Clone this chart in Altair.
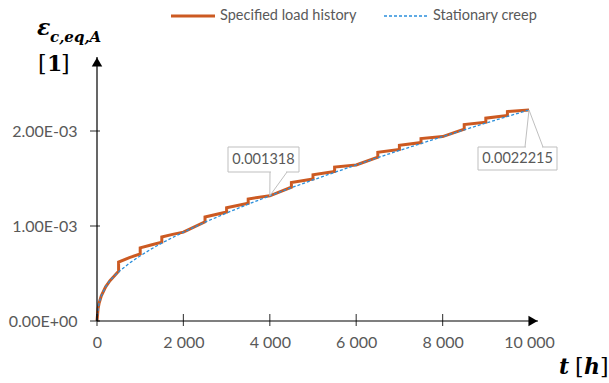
import altair as alt
import pandas as pd

# ---------------- data (strain values in units of 1e-3) ----------------
creep_t = [0, 25, 50, 100, 200, 300, 400, 500, 750, 1000, 1250, 1500, 1750, 2000,
           2500, 3000, 3500, 4000, 4500, 5000, 5500, 6000, 6500, 7000, 7500, 8000,
           8500, 9000, 9500, 10000]
creep_e = [0, 0.13, 0.19, 0.265, 0.36, 0.425, 0.474, 0.517, 0.609, 0.686, 0.756, 0.820,
           0.879, 0.935, 1.040, 1.137, 1.230, 1.318, 1.403, 1.485, 1.565, 1.643, 1.720,
           1.795, 1.868, 1.941, 2.013, 2.083, 2.153, 2.2215]

load_t = [0, 25, 50, 100, 200, 300, 400, 500, 500, 750, 1000, 1000, 1250, 1500, 1500,
          1750, 2000, 2500, 2500, 3000, 3000, 3500, 3500, 4000, 4500, 4500, 5000, 5000,
          5500, 5500, 6000, 6500, 6500, 7000, 7000, 7500, 7500, 8000, 8500, 8500, 9000,
          9000, 9500, 9500, 10000]
load_e = [0, 0.13, 0.19, 0.265, 0.36, 0.425, 0.474, 0.525, 0.62, 0.668, 0.705, 0.77,
          0.80, 0.83, 0.885, 0.912, 0.935, 1.045, 1.095, 1.147, 1.192, 1.240, 1.285,
          1.318, 1.408, 1.458, 1.495, 1.540, 1.575, 1.620, 1.643, 1.725, 1.775, 1.805,
          1.850, 1.878, 1.920, 1.941, 2.018, 2.068, 2.093, 2.135, 2.163, 2.205, 2.2215]

x_ticks = [0, 2000, 4000, 6000, 8000, 10000]
y_ticks = [0, 0.001, 0.002]
y_tick_labels = ["0.00E+00", "1.00E-03", "2.00E-03"]

annot_t = [4000, 10000]
annot_e = [0.001318, 0.0022215]
annot_text = ["0.001318", "0.0022215"]

legend_labels = ["Specified load history", "Stationary creep"]

# ---------------- styling ----------------
ORANGE = "#CC5A22"
BLUE = "#2B8FDB"
GRAY_TXT = "#595959"
BOX = "#BFBFBF"
X_MAX = 10208
Y_MAX = 0.002779
W, H = 441, 264

xs = alt.Scale(domain=[0, X_MAX], nice=False, zero=False)
ys = alt.Scale(domain=[0, Y_MAX], nice=False, zero=False)

load_df = pd.DataFrame({"t": load_t, "e": [v * 1e-3 for v in load_e],
                        "i": list(range(len(load_t)))})
creep_df = pd.DataFrame({"t": creep_t, "e": [v * 1e-3 for v in creep_e],
                         "i": list(range(len(creep_t)))})

y_expr = "[" + ",".join("'%s'" % s for s in y_tick_labels) + "][round(datum.value * 1000)]"

x_axis = alt.Axis(values=x_ticks, domain=False, ticks=False, grid=False, title=None,
                  labelExpr="replace(format(datum.value, ','), ',', ' ')",
                  labelFont="Lato", labelFontSize=16, labelColor=GRAY_TXT,
                  labelPadding=13, labelFlush=False, labelOverlap=False)
y_axis = alt.Axis(values=y_ticks, domain=False, ticks=False, grid=False, title=None,
                  labelExpr=y_expr, labelFont="Lato", labelFontSize=16,
                  labelColor=GRAY_TXT, labelPadding=20, labelOverlap=False)

load_line = alt.Chart(load_df).mark_line(color=ORANGE, strokeWidth=3).encode(
    x=alt.X("t:Q", scale=xs, axis=x_axis),
    y=alt.Y("e:Q", scale=ys, axis=y_axis),
    order="i:Q",
)
creep_line = alt.Chart(creep_df).mark_line(color=BLUE, strokeWidth=1.3,
                                           strokeDash=[3, 2]).encode(
    x=alt.X("t:Q", scale=xs), y=alt.Y("e:Q", scale=ys), order="i:Q")

# axis lines with arrows and crossing ticks
xaxis_line = alt.Chart(pd.DataFrame({"t": [0], "t2": [X_MAX], "e": [0]})).mark_rule(
    color="black", strokeWidth=1.2).encode(x=alt.X("t:Q", scale=xs), x2="t2:Q",
                                           y=alt.Y("e:Q", scale=ys))
yaxis_line = alt.Chart(pd.DataFrame({"t": [0], "e": [0], "e2": [Y_MAX]})).mark_rule(
    color="black", strokeWidth=1.2).encode(x=alt.X("t:Q", scale=xs),
                                           y=alt.Y("e:Q", scale=ys), y2="e2:Q")
xarrow = alt.Chart(pd.DataFrame({"t": [X_MAX], "e": [0]})).mark_point(
    shape="triangle-right", filled=True, size=110, color="black", opacity=1,
    xOffset=-5).encode(x=alt.X("t:Q", scale=xs), y=alt.Y("e:Q", scale=ys))
yarrow = alt.Chart(pd.DataFrame({"t": [0], "e": [Y_MAX]})).mark_point(
    shape="triangle-up", filled=True, size=110, color="black", opacity=1,
    yOffset=5).encode(x=alt.X("t:Q", scale=xs), y=alt.Y("e:Q", scale=ys))
xtick_marks = alt.Chart(pd.DataFrame({"t": x_ticks[:-1], "e": [0] * (len(x_ticks) - 1)})).mark_tick(
    orient="vertical", size=12, thickness=1.2, color="black", yOffset=-1).encode(
    x=alt.X("t:Q", scale=xs), y=alt.Y("e:Q", scale=ys))
ytick_marks = alt.Chart(pd.DataFrame({"t": [0] * len(y_ticks), "e": y_ticks})).mark_tick(
    orient="horizontal", size=10, thickness=1.2, color="black", xOffset=-2).encode(
    x=alt.X("t:Q", scale=xs), y=alt.Y("e:Q", scale=ys))

# legend (top)
leg1_line = alt.Chart(pd.DataFrame({"label": [legend_labels[0]]})).mark_rule(
    color=ORANGE, strokeWidth=3).encode(x=alt.value(74), x2=alt.value(118), y=alt.value(-41))
leg1_text = alt.Chart(pd.DataFrame({"label": [legend_labels[0]]})).mark_text(
    align="left", baseline="middle", font="Lato", fontSize=14.5, color=GRAY_TXT).encode(
    x=alt.value(123), y=alt.value(-41), text="label:N")
leg2_line = alt.Chart(pd.DataFrame({"label": [legend_labels[1]]})).mark_rule(
    color=BLUE, strokeWidth=1.3, strokeDash=[3, 2]).encode(
    x=alt.value(287), x2=alt.value(331), y=alt.value(-41))
leg2_text = alt.Chart(pd.DataFrame({"label": [legend_labels[1]]})).mark_text(
    align="left", baseline="middle", font="Lato", fontSize=14.5, color=GRAY_TXT).encode(
    x=alt.value(336), y=alt.value(-41), text="label:N")

# callouts
def callout(k, box, gap, base):
    df = pd.DataFrame({"t": [annot_t[k]], "e": [annot_e[k]], "label": [annot_text[k]]})
    x0, y0, x1, y1 = box
    rect = alt.Chart(df).mark_rect(fill="white", stroke=BOX, strokeWidth=1).encode(
        x=alt.value(x0), x2=alt.value(x1), y=alt.value(y0), y2=alt.value(y1))
    gap_rule = alt.Chart(df).mark_rule(color="white", strokeWidth=2).encode(
        x=alt.value(gap[0]), x2=alt.value(gap[1]), y=alt.value(gap[2]))
    p1 = alt.Chart(df).mark_rule(color=BOX, strokeWidth=1).encode(
        x=alt.X("t:Q", scale=xs), y=alt.Y("e:Q", scale=ys),
        x2=alt.value(base[0]), y2=alt.value(base[2]))
    p2 = alt.Chart(df).mark_rule(color=BOX, strokeWidth=1).encode(
        x=alt.X("t:Q", scale=xs), y=alt.Y("e:Q", scale=ys),
        x2=alt.value(base[1]), y2=alt.value(base[2]))
    txt = alt.Chart(df).mark_text(font="Lato", fontSize=14.5, color=GRAY_TXT,
                                  baseline="middle").encode(
        x=alt.value((x0 + x1) / 2), y=alt.value((y0 + y1) / 2 + 0.5), text="label:N")
    return [rect, gap_rule, p1, p2, txt]

c1 = callout(0, (131, 90, 202, 115), (174, 189, 115), (173, 190, 115))
c2 = callout(1, (381, 90, 460, 113), (429, 445, 90), (428, 446, 90))

# axis titles
def title_text(s, x, y, size, style="normal", weight="bold", font="DejaVu Serif"):
    return alt.Chart(pd.DataFrame({"s": [s]})).mark_text(
        align="left", baseline="alphabetic", font=font, fontSize=size,
        fontStyle=style, fontWeight=weight, color="black").encode(
        x=alt.value(x), y=alt.value(y), text="s:N")

titles = [
    title_text("ε", -60, -22, 22, style="italic"),
    title_text("c,eq,A", -47, -15.5, 15, style="italic"),
    title_text("[", -59, 14, 22, weight="normal"),
    title_text("1", -50, 14, 22),
    title_text("]", -36, 14, 22, weight="normal"),
    title_text("t", 462, 317, 22, style="italic"),
    title_text("[", 478, 317, 22, weight="normal"),
    title_text("h", 487, 317, 22, style="italic"),
    title_text("]", 503, 317, 22, weight="normal"),
]

chart = alt.layer(
    load_line, creep_line, xaxis_line, yaxis_line, xtick_marks, ytick_marks,
    xarrow, yarrow, leg1_line, leg1_text, leg2_line, leg2_text, *c1, *c2, *titles,
).properties(
    width=W, height=H,
    padding={"left": 97, "top": 57, "right": 71, "bottom": 62},
    autosize=alt.AutoSizeParams(type="none"),
    background="white",
).configure_view(stroke=None)

chart.save("out.html", embed_options={"renderer": "svg", "actions": False})
